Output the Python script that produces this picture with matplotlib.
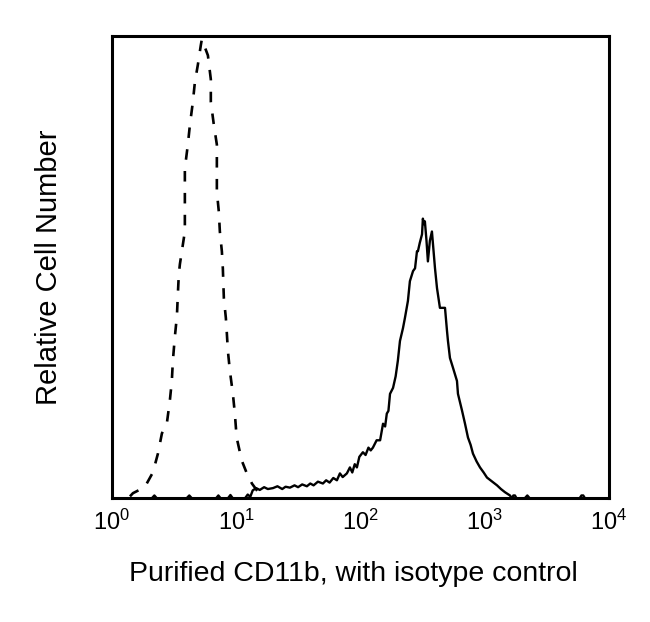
import matplotlib
matplotlib.use("Agg")
import matplotlib.pyplot as plt

plt.rcParams['font.family'] = ['Liberation Sans', 'DejaVu Sans']
plt.rcParams['mathtext.fontset'] = 'custom'
plt.rcParams['mathtext.rm'] = 'Liberation Sans'
plt.rcParams['mathtext.it'] = 'Liberation Sans'

# Isotype control (dashed): fluorescence intensity and relative count
iso_x = [1.40, 1.48, 1.84, 2.14, 2.35, 2.53, 2.77, 2.93, 3.04, 3.10, 3.21, 3.34, 3.40,
         3.46, 3.53, 3.66, 3.87, 3.87, 3.87, 3.87, 4.09, 4.25, 4.49, 4.66, 4.92, 5.20,
         5.30, 5.60, 5.93, 6.26, 6.26, 6.62, 7.00, 7.00, 7.00, 7.26, 7.40, 7.68, 7.82,
         7.97, 8.27, 8.43, 8.59, 8.91, 9.42, 9.77, 10.1, 11.1, 12.2, 13.4, 14.7, 16.1]
iso_y = [0.4, 1.1, 2.4, 5.6, 9.7, 14.1, 16.2, 21.2, 25.5, 29.9, 34.9, 39.6, 44.4,
         48.7, 50.9, 53.7, 58.0, 62.3, 67.3, 71.7, 76.9, 81.2, 86.2, 90.5, 94.2, 98.5,
         99.8, 98.1, 96.3, 91.1, 86.2, 81.2, 76.9, 71.0, 66.7, 62.3, 58.0, 53.7, 50.0,
         43.5, 39.2, 35.7, 32.0, 27.7, 22.7, 18.4, 13.2, 8.2, 5.4, 3.2, 1.7, 0.4]

# Purified CD11b (solid): fluorescence intensity and relative count
cd_x = [1.0, 2.1, 2.2, 2.3, 4.0, 4.2, 4.4, 6.9, 7.2, 7.5, 8.6, 9.0, 9.4, 11.8, 12.4,
        13.0, 13.6, 14.5, 15.5, 16.8, 18.0, 19.8, 21.5, 23.5, 25.0, 27.1, 29.5, 31.5,
        34.0, 37.1, 39.5, 42.0, 45.5, 49.9, 53.0, 56.5, 60.5, 64.7, 68.4, 72.0, 77.8,
        82.3, 86.0, 90.0, 93.7, 98.0, 104.7, 110, 116, 121, 126, 135, 144, 152, 158,
        163, 168, 173, 183, 192, 200, 208, 220, 228, 241, 250, 265, 275, 285, 290,
        300, 313, 318, 324, 330, 340, 349, 362, 376, 398, 413, 436, 461, 479, 497,
        506, 525, 555, 598, 609, 656, 694, 733, 770, 804, 860, 916, 980, 1042, 1150,
        1256, 1350, 1456, 1596, 1650, 1700, 1750, 1800, 2100, 2200, 2300, 5800,
        6000, 6200, 6400, 10000]
cd_y = [0.0, 0.0, 0.6, 0.0, 0.0, 0.6, 0.0, 0.0, 0.6, 0.0, 0.0, 0.7, 0.0, 0.0, 0.8,
        0.3, 1.7, 2.2, 1.8, 2.4, 2.0, 2.2, 2.6, 2.0, 2.5, 2.3, 2.8, 2.4, 3.0, 2.6,
        3.2, 2.8, 3.6, 3.2, 3.9, 3.4, 4.4, 3.9, 5.4, 4.6, 5.4, 6.7, 5.6, 7.4, 6.7,
        9.0, 10.0, 9.4, 11.0, 10.4, 11.0, 12.6, 12.6, 16.2, 15.6, 18.4, 19.0, 22.7,
        24.0, 26.5, 29.9, 34.2, 37.0, 39.2, 42.9, 47.2, 49.4, 50.0, 53.7, 53.7, 55.5,
        57.4, 60.8, 59.6, 60.2, 56.0, 51.5, 56.0, 58.0, 50.0, 45.7, 41.4, 41.4, 41.4,
        36.4, 34.2, 30.5, 28.4, 25.5, 22.7, 19.1, 16.2, 13.2, 11.6, 9.7, 8.0, 6.7,
        5.6, 4.5, 3.6, 2.8, 2.0, 1.3, 0.6, 0.0, 0.6, 0.6, 0.0, 0.0, 0.6, 0.0, 0.0,
        0.6, 0.6, 0.0, 0.0]

tick_vals = [1, 10, 100, 1000, 10000]
tick_labels = [r'$10^{0}$', r'$10^{1}$', r'$10^{2}$', r'$10^{3}$', r'$10^{4}$']

fig = plt.figure(figsize=(6.5, 6.22), dpi=100)
ax = fig.add_axes([0.172, 0.199, 0.765, 0.743])

ax.plot(iso_x, iso_y, color='black', lw=1.9, linestyle=(0, (4.0, 4.3)))
ax.plot(cd_x, cd_y, color='black', lw=1.7)

ax.set_xscale('log')
ax.set_xlim(1, 10000)
ax.set_ylim(0, 100.5)
ax.set_xticks(tick_vals)
ax.set_xticklabels(tick_labels, fontsize=17)
ax.minorticks_off()
ax.tick_params(axis='x', length=0, pad=8)
ax.set_yticks([])
for s in ax.spines.values():
    s.set_linewidth(2.2)

ax.set_xlabel('Purified CD11b, with isotype control', fontsize=20.5, labelpad=18)
ax.xaxis.set_label_coords(0.486, -0.135)
ax.set_ylabel('Relative Cell Number', fontsize=21, labelpad=35)

fig.savefig('out.png', dpi=100)
